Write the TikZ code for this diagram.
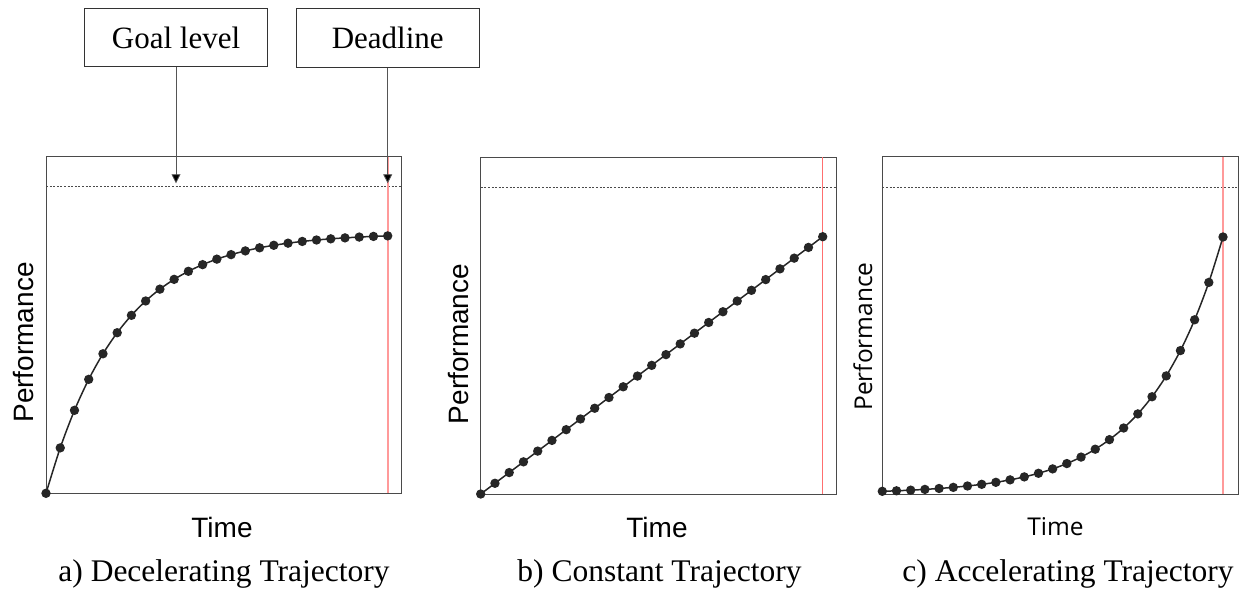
\documentclass[tikz,border=0pt]{standalone}
\usepackage{fontspec}
\setmainfont{Liberation Serif}
\newfontfamily\arialf{Liberation Sans}
\newfontfamily\segoef{Open Sans}
\usetikzlibrary{arrows.meta}
\definecolor{frameg}{HTML}{4A4A4A}
\definecolor{dotc}{HTML}{262626}
\definecolor{redl}{HTML}{FF6F6F}
\definecolor{pinkl}{HTML}{FF9A9A}
\definecolor{arrg}{HTML}{555555}
\tikzset{
  frame/.style={draw=frameg, line width=1pt},
  goalline/.style={draw=frameg, line width=0.7pt, dash pattern=on 2pt off 1.6pt},
  dl/.style={draw=redl, line width=0.9pt},
  curve/.style={draw=dotc, line width=1.5pt},
  dotm/.style={fill=dotc},
  labbox/.style={draw=black!80, line width=1pt, minimum width=183.4pt, minimum height=58.4pt, inner sep=0pt, font=\fontsize{31}{36}\selectfont},
  arr/.style={draw=arrg, line width=0.8pt, -{Triangle[length=9pt,width=9pt,fill=black]}},
  perfa/.style={font=\arialf\fontsize{28}{32}\selectfont, rotate=90, anchor=base, inner sep=0pt},
  timea/.style={font=\arialf\fontsize{28}{32}\selectfont, anchor=base, inner sep=0pt},
  perfc/.style={font=\segoef\fontsize{24.5}{28}\selectfont, rotate=90, anchor=base, inner sep=0pt},
  timec/.style={font=\segoef\fontsize{24.5}{28}\selectfont, anchor=base, inner sep=0pt},
  capt/.style={font=\fontsize{31.5}{36}\selectfont, anchor=base, inner sep=0pt},
}
\begin{document}
\begin{tikzpicture}[x=1pt,y=-1pt]
\useasboundingbox (0,0) rectangle (1247,599);
% ---------- panel a ----------
\draw[frame] (46,156.7) rectangle (401.7,493.3);
\draw[goalline] (46,186.7) -- (401.7,186.7);
\draw[draw=pinkl, line width=1.6pt] (387.7,156.7) -- (387.7,493.3);
\draw[curve] plot[domain=0:24, samples=25, smooth] ({46+\x*341.7/24},{493.3-260*(1-exp(-\x/5.2))});
\foreach \k in {0,...,24}{
  \fill[dotm] ({46+\k*341.7/24},{493.3-260*(1-exp(-\k/5.2))}) circle (4.7pt);
}
\node[perfa] (pa) at (33,342.5) {Performance};
\node[timea] (ta) at (222,537) {Time};
\node[capt] (ca) at (224,581) {a) Decelerating Trajectory};
% ---------- panel b ----------
\draw[frame] (480.7,157.3) rectangle (836,494);
\draw[goalline] (480.7,187.7) -- (836,187.7);
\draw[dl] (822.7,157.3) -- (822.7,494);
\draw[curve] (480.7,494) -- (822.7,236.7);
\foreach \k in {0,...,24}{
  \fill[dotm] ({480.7+\k*342/24},{494-\k*257.3/24}) circle (4.7pt);
}
\node[perfa] (pb) at (468,344) {Performance};
\node[timea] (tb) at (657,537) {Time};
\node[capt] (cb) at (659.5,581) {b) Constant Trajectory};
% ---------- panel c ----------
\draw[frame] (882.3,156.7) rectangle (1238,494);
\draw[goalline] (882.3,187.7) -- (1238,187.7);
\draw[draw=pinkl, line width=2pt] (1223,156.7) -- (1223,494);
\draw[curve] plot[domain=0:24, samples=25, smooth] ({882.3+\x*340.7/24},{491.3-2.397*(1.215^\x-1)});
\foreach \k in {0,...,24}{
  \fill[dotm] ({882.3+\k*340.7/24},{491.3-2.397*(1.215^\k-1)}) circle (4.7pt);
}
\node[perfc] (pc) at (872,336.5) {Performance};
\node[timec] (tc) at (1055.5,535) {Time};
\node[capt] (cc) at (1068,581) {c) Accelerating Trajectory};
% ---------- labels ----------
\node[labbox] (goal) at (176,37.5) {Goal level};
\node[labbox] (dead) at (387.7,38.2) {Deadline};
\coordinate (goaltip) at (176,183.3);
\coordinate (deadtip) at (387.7,183.3);
\draw[arr] (goal.south) -- (goaltip);
\draw[arr] (dead.south) -- (deadtip);
\end{tikzpicture}
\end{document}
